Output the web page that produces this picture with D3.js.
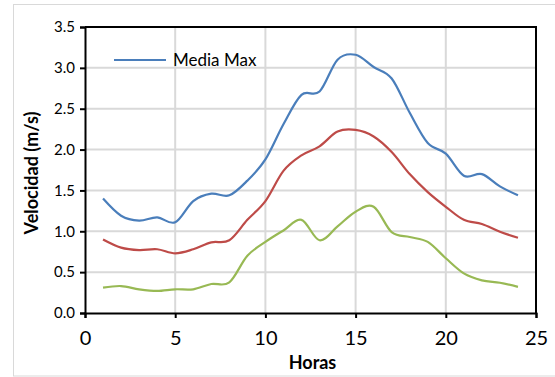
<!DOCTYPE html>
<html>
<head>
<meta charset="utf-8">
<script src="https://cdn.jsdelivr.net/npm/d3@7"></script>
<style>
  html, body { margin: 0; padding: 0; background: #fff; }
  svg { display: block; font-family: Lato, "Open Sans", sans-serif; }
</style>
</head>
<body>
<svg id="chart" width="555" height="377"></svg>
<script>
const hours = [1,2,3,4,5,6,7,8,9,10,11,12,13,14,15,16,17,18,19,20,21,22,23,24];
const mediaMax = [1.40,1.19,1.13,1.17,1.11,1.37,1.46,1.44,1.62,1.88,2.31,2.67,2.71,3.10,3.16,3.01,2.87,2.45,2.08,1.95,1.68,1.70,1.55,1.44];
const media    = [0.90,0.80,0.77,0.78,0.73,0.78,0.865,0.89,1.14,1.37,1.74,1.93,2.04,2.22,2.24,2.16,1.97,1.70,1.48,1.30,1.14,1.09,0.995,0.92];
const mediaMin = [0.31,0.33,0.29,0.27,0.29,0.29,0.355,0.375,0.70,0.87,1.01,1.14,0.89,1.06,1.24,1.30,0.99,0.93,0.87,0.67,0.485,0.40,0.37,0.32];
const xTicks = [0,5,10,15,20,25];
const yTicks = [0,0.5,1,1.5,2,2.5,3,3.5];
const seriesNames = ["Media Max","Media","Media Min"];
const colors = ["#4a7ebb","#be4b48","#98b954"];

const svg = d3.select("#chart");
const L = 85, R = 536, T = 27, B = 313;
const x = d3.scaleLinear().domain([0,25]).range([L,R]);
const y = d3.scaleLinear().domain([0,3.5]).range([B,T]);

// outer chart border
svg.append("rect").attr("x",13.5).attr("y",4.5).attr("width",570).attr("height",371.5)
  .attr("fill","none").attr("stroke","#d9d9d9").attr("stroke-width",1);

// gridlines
const grid = svg.append("g");
grid.selectAll("line.h").data(yTicks.filter(d=>d>0 && d<3.5)).join("line")
  .attr("x1",L).attr("x2",R).attr("y1",d=>y(d)).attr("y2",d=>y(d))
  .attr("stroke","#d9d9d9").attr("stroke-width",2);
grid.selectAll("line.v").data(xTicks.filter(d=>d>0 && d<25)).join("line")
  .attr("x1",d=>x(d)).attr("x2",d=>x(d)).attr("y1",T).attr("y2",B)
  .attr("stroke","#d9d9d9").attr("stroke-width",2);

// plot border (top/right)
svg.append("path").attr("d",`M${L},${T}H${R}V${B}`).attr("fill","none")
  .attr("stroke","#000").attr("stroke-width",2);

// axes
const yAxis = svg.append("g").attr("transform",`translate(${L},0)`)
  .call(d3.axisLeft(y).tickValues(yTicks).tickFormat(d3.format(".1f")).tickSize(5).tickPadding(5));
const xAxis = svg.append("g").attr("transform",`translate(0,${B})`)
  .call(d3.axisBottom(x).tickValues(xTicks).tickFormat(d3.format("d")).tickSize(5).tickPadding(13));
[yAxis,xAxis].forEach(a=>{
  a.select(".domain").attr("stroke","#000").attr("stroke-width",2);
  a.selectAll(".tick line").attr("stroke","#000").attr("stroke-width",2);
  a.selectAll("text").attr("fill","#000").attr("font-family","Lato, sans-serif");
});
yAxis.selectAll("text").attr("font-size",15);
xAxis.selectAll("text").attr("font-size",20);

// lines
const line = d3.line().x((d,i)=>x(hours[i])).y(d=>y(d)).curve(d3.curveCatmullRom.alpha(0));
[mediaMax, media, mediaMin].forEach((s,i)=>{
  svg.append("path").datum(s).attr("d",line).attr("fill","none")
    .attr("stroke",colors[i]).attr("stroke-width",2.2).attr("stroke-linejoin","round");
});

// legend (only first series shown)
svg.append("line").attr("x1",114).attr("x2",166).attr("y1",60).attr("y2",60)
  .attr("stroke",colors[0]).attr("stroke-width",2.2);
svg.append("text").attr("x",173).attr("y",66).attr("font-size",17).attr("fill","#000")
  .text(seriesNames[0]);

// axis titles
svg.append("text").attr("x",(L+R)/2+2).attr("y",369).attr("text-anchor","middle")
  .attr("font-size",18).attr("font-weight","bold").attr("fill","#000").text("Horas");
svg.append("text").attr("transform",`translate(38,173) rotate(-90)`).attr("text-anchor","middle")
  .attr("font-size",18).attr("font-weight","bold").attr("fill","#000").text("Velocidad (m/s)");
</script>
</body>
</html>
